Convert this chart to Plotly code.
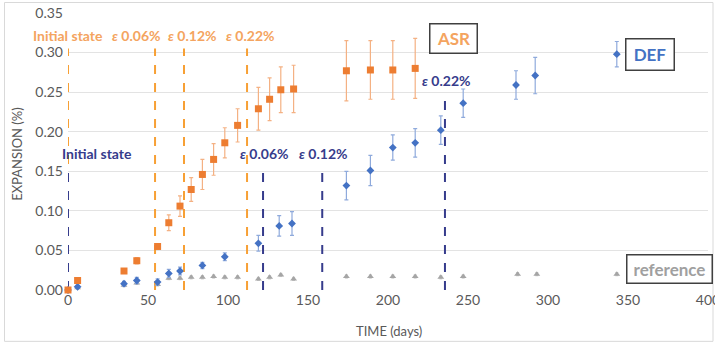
import plotly.graph_objects as go

# ---------------- data ----------------
asr_days = [0, 6, 35, 43, 56, 63, 70, 77, 84, 91, 98, 106, 119, 126, 133, 141, 174, 189, 203, 217]
asr_vals = [0.000, 0.012, 0.024, 0.037, 0.055, 0.085, 0.106, 0.127, 0.146, 0.165, 0.186, 0.208,
            0.229, 0.241, 0.253, 0.254, 0.277, 0.278, 0.278, 0.280]
asr_err = [0.000, 0.002, 0.003, 0.004, 0.003, 0.010, 0.013, 0.015, 0.019, 0.020, 0.019, 0.021,
           0.027, 0.027, 0.029, 0.030, 0.038, 0.037, 0.037, 0.038]

def_days = [0, 6, 35, 43, 56, 63, 70, 84, 98, 119, 132, 140, 174, 189, 203, 217, 233, 247, 280, 292, 343]
def_vals = [0.000, 0.004, 0.008, 0.012, 0.010, 0.021, 0.024, 0.031, 0.042, 0.059, 0.081, 0.084,
            0.132, 0.151, 0.180, 0.186, 0.202, 0.236, 0.259, 0.271, 0.298]
def_err = [0.000, 0.002, 0.003, 0.004, 0.004, 0.005, 0.005, 0.004, 0.005, 0.010, 0.013, 0.015,
           0.018, 0.019, 0.016, 0.018, 0.018, 0.018, 0.018, 0.023, 0.016]

ref_days = [0, 6, 35, 43, 56, 63, 70, 77, 84, 91, 98, 106, 119, 126, 133, 141, 174, 189, 203, 217,
            233, 247, 281, 293, 343]
ref_vals = [0.000, 0.003, 0.006, 0.009, 0.007, 0.015, 0.015, 0.016, 0.016, 0.017, 0.016, 0.016,
            0.014, 0.016, 0.019, 0.014, 0.017, 0.017, 0.017, 0.017, 0.016, 0.017, 0.020, 0.020, 0.020]
ref_err = [0.002] * len(ref_days)

asr_lines = [0, 54.4, 72.5, 111.9]
asr_line_top = 0.305
asr_labels = ["Initial state", "<i>ε</i> 0.06%", "<i>ε</i> 0.12%", "<i>ε</i> 0.22%"]
asr_label_px = [30.7, 110, 166, 224]
asr_label_py = 35.7

def_lines = [0, 121.9, 158.9, 235.6]
def_line_top = [0.155, 0.158, 0.158, 0.244]
def_labels = ["Initial state", "<i>ε</i> 0.06%", "<i>ε</i> 0.12%", "<i>ε</i> 0.22%"]
def_label_px = [60, 238, 297, 420]
def_label_py = [153.3, 153.3, 153.3, 80.7]

x_ticks = [0, 50, 100, 150, 200, 250, 300, 350, 400]
y_ticks = [0.00, 0.05, 0.10, 0.15, 0.20, 0.25, 0.30, 0.35]

ORANGE = "#ED7D31"
ORANGE_TXT = "#F4A460"
BLUE = "#4472C4"
NAVY = "#363C8C"
GREY = "#A5A5A5"
FONT = "Lato, Carlito, 'Open Sans', sans-serif"

# plot-area geometry in pixels (for placing free text in paper coordinates)
L, R, T, B = 68, 708, 13, 290.3
W, H = R - L, B - T

def px(x):
    return (x - L) / W

def py(y):
    return (B - y) / H

fig = go.Figure()

for x in asr_lines:
    fig.add_trace(go.Scatter(x=[x, x], y=[0, asr_line_top], mode="lines",
                             line=dict(color="#F7A035", width=2, dash="dash"),
                             hoverinfo="skip", showlegend=False, cliponaxis=False))
for x, top in zip(def_lines, def_line_top):
    fig.add_trace(go.Scatter(x=[x, x], y=[0, top], mode="lines",
                             line=dict(color=NAVY, width=2, dash="dash"),
                             hoverinfo="skip", showlegend=False, cliponaxis=False))

fig.add_trace(go.Scatter(x=ref_days, y=ref_vals, mode="markers",
                         marker=dict(symbol="triangle-up", size=6, color=GREY),
                         error_y=dict(type="data", array=ref_err, color="#C9C9C9", thickness=1, width=1.5),
                         showlegend=False, cliponaxis=False))
fig.add_trace(go.Scatter(x=def_days, y=def_vals, mode="markers",
                         marker=dict(symbol="diamond", size=6, color=BLUE),
                         error_y=dict(type="data", array=def_err, color="#8FAADC", thickness=1.2, width=2),
                         showlegend=False, cliponaxis=False))
fig.add_trace(go.Scatter(x=asr_days, y=asr_vals, mode="markers",
                         marker=dict(symbol="square", size=7, color=ORANGE),
                         error_y=dict(type="data", array=asr_err, color="#F4B183", thickness=1.2, width=2),
                         showlegend=False, cliponaxis=False))

annotations = []
for t, x in zip(asr_labels, asr_label_px):
    annotations.append(dict(x=px(x), y=py(asr_label_py), xref="paper", yref="paper",
                            text="<b>" + t + "</b>", showarrow=False, xanchor="left", yanchor="middle",
                            font=dict(family=FONT, size=14, color=ORANGE_TXT)))
for t, x, y in zip(def_labels, def_label_px, def_label_py):
    annotations.append(dict(x=px(x), y=py(y), xref="paper", yref="paper",
                            text="<b>" + t + "</b>", showarrow=False, xanchor="left", yanchor="middle",
                            font=dict(family=FONT, size=14, color=NAVY)))

boxes = [("ASR", 453.7, 38.8, 44, 26, ORANGE_TXT),
         ("DEF", 650.2, 54.7, 45, 28, BLUE),
         ("reference", 669.2, 269.2, 82, 25, "#A0A0A0")]
for t, x, y, w, h, c in boxes:
    annotations.append(dict(x=px(x), y=py(y), xref="paper", yref="paper", text="<b>" + t + "</b>",
                            showarrow=False, xanchor="center", yanchor="middle",
                            width=w, height=h, borderpad=1, bordercolor="#404040", borderwidth=1.5,
                            bgcolor="white",
                            font=dict(family=FONT, size=17, color=c)))

# axis titles
annotations.append(dict(x=px(389), y=py(331), xref="paper", yref="paper", text="TIME (days)",
                        showarrow=False, xanchor="center", yanchor="middle",
                        font=dict(family=FONT, size=13, color="#595959")))
annotations.append(dict(x=px(17), y=py(154), xref="paper", yref="paper", text="EXPANSION (%)",
                        showarrow=False, xanchor="center", yanchor="middle", textangle=-90,
                        font=dict(family=FONT, size=13, color="#595959")))

fig.update_layout(
    width=715, height=345,
    margin=dict(l=L, r=715 - R, t=T, b=345 - B, autoexpand=False),
    paper_bgcolor="white", plot_bgcolor="white",
    font=dict(family=FONT, color="#595959", size=13),
    annotations=annotations,
    shapes=[dict(type="rect", xref="paper", yref="paper",
                 x0=px(4.5), x1=px(713), y0=py(341.7), y1=py(2.5),
                 line=dict(color="#D9D9D9", width=1), layer="below")],
    xaxis=dict(range=[0, 400], tickvals=x_ticks, showgrid=False, zeroline=False,
               showline=False, ticks="", automargin=False, ticklabeloverflow="allow",
               tickfont=dict(size=14, color="#595959")),
    yaxis=dict(range=[0, 0.35], tickvals=y_ticks, tickformat=".2f", showgrid=True,
               gridcolor="#E3E3E3", gridwidth=1, zeroline=False, showline=False, ticks="",
               automargin=False, ticklabelstandoff=4,
               tickfont=dict(size=14, color="#595959")),
)

fig.write_html("out.html", config={"displayModeBar": False},
               post_script="document.body.style.margin='0';document.body.style.overflow='hidden';")
